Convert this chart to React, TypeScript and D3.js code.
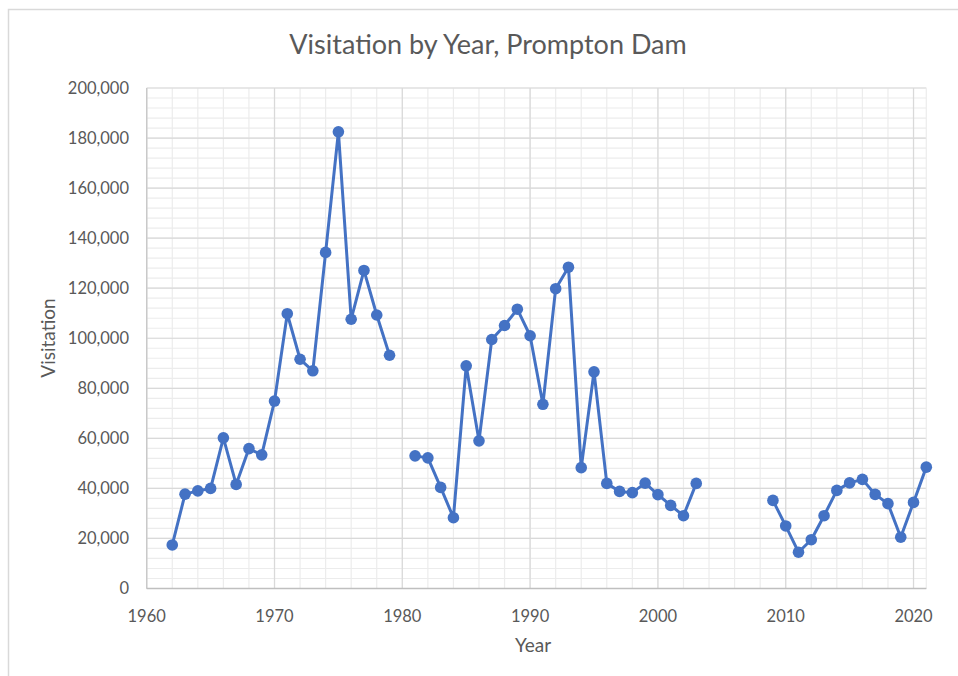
import React from "react";
import * as d3 from "d3";

const years: number[] = [
  1962, 1963, 1964, 1965, 1966, 1967, 1968, 1969, 1970, 1971,
  1972, 1973, 1974, 1975, 1976, 1977, 1978, 1979, 1980, 1981,
  1982, 1983, 1984, 1985, 1986, 1987, 1988, 1989, 1990, 1991,
  1992, 1993, 1994, 1995, 1996, 1997, 1998, 1999, 2000, 2001,
  2002, 2003, 2004, 2005, 2006, 2007, 2008, 2009, 2010, 2011,
  2012, 2013, 2014, 2015, 2016, 2017, 2018, 2019, 2020, 2021,
];

const visitation: (number | null)[] = [
  17400, 37700, 39000, 40000, 60200, 41600, 55900, 53400, 74900, 109800,
  91600, 87000, 134300, 182500, 107600, 127100, 109300, 93200, null, 53000,
  52200, 40400, 28300, 89000, 59000, 99500, 105100, 111600, 101000, 73600,
  119800, 128400, 48300, 86600, 42000, 38800, 38300, 42100, 37500, 33200,
  29100, 42000, null, null, null, null, null, 35200, 25000, 14500,
  19500, 29100, 39200, 42200, 43600, 37600, 33900, 20500, 34400, 48500,
];

const xTicks: number[] = [1960, 1970, 1980, 1990, 2000, 2010, 2020];
const yTicks: number[] = [0, 20000, 40000, 60000, 80000, 100000, 120000, 140000, 160000, 180000, 200000];

const title = "Visitation by Year, Prompton Dam";
const xTitle = "Year";
const yTitle = "Visitation";

const W = 958;
const H = 676;
const FONT = "Lato, 'Open Sans', sans-serif";

export default function App() {
  const x = d3.scaleLinear().domain([1960, 2021]).range([146.7, 926.3]);
  const y = d3.scaleLinear().domain([0, 200000]).range([588.5, 88]);

  const minorX = d3.range(1960, 2022, 2);
  const minorY = d3.range(0, 200001, 4000);

  const pts = years.map((yr, i) => ({ yr, v: visitation[i] }));
  const line = d3
    .line<{ yr: number; v: number | null }>()
    .defined((d) => d.v !== null)
    .x((d) => x(d.yr))
    .y((d) => y(d.v as number));

  const fmt = d3.format(",");

  return (
    <svg
      width={W}
      height={H}
      style={{ position: "absolute", left: 0, top: 0, background: "#fff" }}
    >
      <rect x={0} y={0} width={W} height={H} fill="#fff" />
      <rect x={8.5} y={9.5} width={W + 10} height={H + 10} fill="#fff" stroke="#d9d9d9" strokeWidth={1.5} />

      {/* minor grid */}
      {minorY.map((v) => (
        <line key={"my" + v} x1={x(1960)} x2={x(2021)} y1={y(v)} y2={y(v)} stroke="#ececec" strokeWidth={1.2} />
      ))}
      {minorX.map((v) => (
        <line key={"mx" + v} x1={x(v)} x2={x(v)} y1={y(0)} y2={y(200000)} stroke="#ececec" strokeWidth={1.2} />
      ))}
      {/* major grid */}
      {yTicks.map((v) => (
        <line key={"gy" + v} x1={x(1960)} x2={x(2021)} y1={y(v)} y2={y(v)} stroke="#d9d9d9" strokeWidth={1.2} />
      ))}
      {xTicks.map((v) => (
        <line key={"gx" + v} x1={x(v)} x2={x(v)} y1={y(0)} y2={y(200000)} stroke="#d9d9d9" strokeWidth={1.2} />
      ))}
      <line x1={x(2021)} x2={x(2021)} y1={y(0)} y2={y(200000)} stroke="#ececec" strokeWidth={1.2} />
      {/* axes */}
      <line x1={x(1960)} x2={x(1960)} y1={y(0)} y2={y(200000)} stroke="#c8c8c8" strokeWidth={1.3} />
      <line x1={x(1960)} x2={x(2021)} y1={y(0)} y2={y(0)} stroke="#bfbfbf" strokeWidth={1.3} />

      {/* tick labels */}
      {yTicks.map((v) => (
        <text key={"ty" + v} x={129} y={y(v)} dy="0.35em" textAnchor="end" fontFamily={FONT} fontSize={16.5} fill="#595959">
          {fmt(v)}
        </text>
      ))}
      {xTicks.map((v) => (
        <text key={"tx" + v} x={x(v)} y={616} dy="0.35em" textAnchor="middle" fontFamily={FONT} fontSize={16.5} fill="#595959">
          {v}
        </text>
      ))}

      {/* titles */}
      <text x={488} y={45} dy="0.35em" textAnchor="middle" fontFamily={FONT} fontSize={27} fill="#595959">
        {title}
      </text>
      <text x={533} y={645} dy="0.35em" textAnchor="middle" fontFamily={FONT} fontSize={19} fill="#595959">
        {xTitle}
      </text>
      <text
        transform={`translate(48,338) rotate(-90)`}
        dy="0.35em"
        textAnchor="middle"
        fontFamily={FONT}
        fontSize={19}
        fill="#595959"
      >
        {yTitle}
      </text>

      {/* series */}
      <path d={line(pts) || ""} fill="none" stroke="#4472c4" strokeWidth={3} strokeLinejoin="round" />
      {pts
        .filter((d) => d.v !== null)
        .map((d) => (
          <circle key={"p" + d.yr} cx={x(d.yr)} cy={y(d.v as number)} r={5.8} fill="#4472c4" />
        ))}
    </svg>
  );
}
